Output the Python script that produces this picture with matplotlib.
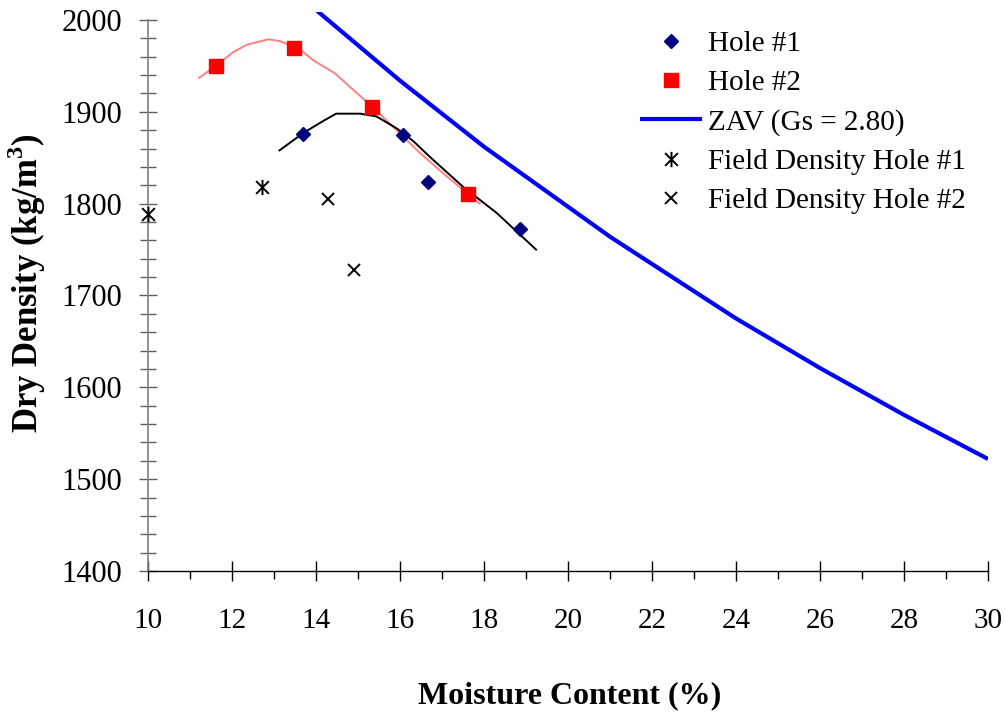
import matplotlib
matplotlib.use("Agg")
import matplotlib.pyplot as plt
from matplotlib.path import Path
from matplotlib.ticker import MultipleLocator
from matplotlib.transforms import Bbox, TransformedBbox

plt.rcParams['font.family'] = ['Liberation Serif', 'DejaVu Serif']
plt.rcParams['mathtext.fontset'] = 'custom'
plt.rcParams['mathtext.rm'] = 'Liberation Serif'
plt.rcParams['mathtext.bf'] = 'Liberation Serif:bold'

# ---- data ----
hole1_w = [13.70, 16.08, 16.66, 18.86]
hole1_rho = [1876, 1875, 1824, 1772]

hole2_w = [11.61, 13.47, 15.33, 17.61]
hole2_rho = [1950, 1970, 1905, 1811]

zav_w = [14, 16, 18, 21, 24, 26, 28, 30]
zav_rho = [2011, 1934, 1862, 1764, 1675, 1621, 1570, 1522]

fit1_w = [13.13, 13.70, 14.17, 14.48, 15.05, 15.44, 15.92, 16.32, 16.71, 17.51, 18.30, 19.24]
fit1_rho = [1858, 1877, 1890, 1898, 1898, 1895, 1882, 1868, 1851, 1818, 1790, 1750]

fit2_w = [11.22, 11.61, 12.03, 12.35, 12.86, 13.14, 13.62, 13.94, 14.45, 14.81, 15.33, 15.92, 16.48, 17.03, 17.61, 17.90]
fit2_rho = [1937, 1950, 1965, 1973, 1979, 1977, 1968, 1956, 1942, 1927, 1906, 1880, 1855, 1833, 1811, 1800]

field1_w = [10.0, 12.71]
field1_rho = [1789, 1818]

field2_w = [14.29, 14.90]
field2_rho = [1805, 1728]

x_ticks = list(range(10, 31, 2))
y_ticks = list(range(1400, 2001, 100))

# ---- figure ----
W, H = 1005, 712
fig = plt.figure(figsize=(W / 100, H / 100), dpi=100)
left, right, top, bottom = 148, 988, 20, 571
ax = fig.add_axes([left / W, 1 - bottom / H, (right - left) / W, (bottom - top) / H])

# asterisk marker (X with vertical bar)
ast = Path([(-0.5, -0.5), (0.5, 0.5), (-0.5, 0.5), (0.5, -0.5), (0, -0.6), (0, 0.6)],
           [Path.MOVETO, Path.LINETO, Path.MOVETO, Path.LINETO, Path.MOVETO, Path.LINETO])

ax.plot(fit2_w, fit2_rho, color='#FF8080', lw=1.4, zorder=2)
ax.plot(fit1_w, fit1_rho, color='black', lw=1.4, zorder=3)

ax.plot(hole1_w, hole1_rho, ls='none', marker='D', ms=7.5, color='#000080',
        label='Hole #1', zorder=4)
ax.plot(hole2_w, hole2_rho, ls='none', marker='s', ms=9.5, color='#FF0000',
        label='Hole #2', zorder=4)
zl, = ax.plot(zav_w, zav_rho, color='#0000FF', lw=3.0, label='ZAV (Gs = 2.80)',
              zorder=5, solid_capstyle='butt')
ax.plot(field1_w, field1_rho, ls='none', marker=ast, ms=11, mew=1.4, color='black',
        mfc='none', label='Field Density Hole #1', zorder=6, clip_on=False)
ax.plot(field2_w, field2_rho, ls='none', marker='x', ms=9, mew=1.4, color='black',
        label='Field Density Hole #2', zorder=6)

ax.set_xlim(10, 30)
ax.set_ylim(1400, 2000)

clip = TransformedBbox(Bbox([[0, 0], [1.0, 1.0 + 8 / (bottom - top)]]), ax.transAxes)
zl.set_clip_box(clip)

ax.set_xticks(x_ticks)
ax.set_yticks(y_ticks)
ax.xaxis.set_minor_locator(MultipleLocator(1))
ax.yaxis.set_minor_locator(MultipleLocator(20))

for s in ['top', 'right']:
    ax.spines[s].set_visible(False)
ax.spines['left'].set_color('#808080')
ax.spines['left'].set_linewidth(1.2)
ax.spines['bottom'].set_color('black')
ax.spines['bottom'].set_linewidth(1.0)

ax.tick_params(axis='y', which='major', direction='inout', length=13, width=1.0,
               color='#606060', labelsize=22, pad=12)
ax.tick_params(axis='y', which='minor', direction='inout', length=11, width=1.0,
               color='#606060')
ax.tick_params(axis='x', which='major', direction='inout', length=14, width=1.0,
               color='black', labelsize=21, pad=20)
ax.tick_params(axis='x', which='minor', direction='out', length=6, width=1.0,
               color='black')

fig.text(27 / W, 1 - 283 / H, r'Dry Density (kg/m$^\mathbf{3}$)', rotation=90, fontsize=25,
         fontweight='bold', ha='center', va='center')
fig.text(570 / W, 1 - 703 / H, 'Moisture Content (%)', fontsize=23,
         fontweight='bold', ha='center', va='baseline')

leg = fig.legend(loc='upper left', bbox_to_anchor=(640 / W, 1 - 30.5 / H),
                 frameon=False, fontsize=21, handlelength=2.12, handletextpad=0.2,
                 labelspacing=0.44, borderpad=0, borderaxespad=0)

fig.savefig('out.png', dpi=100)
